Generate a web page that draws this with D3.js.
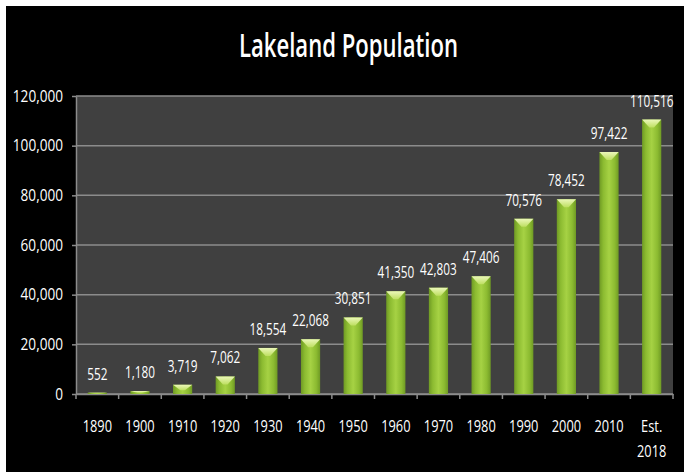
<!DOCTYPE html>
<html><head><meta charset="utf-8">
<script src="https://cdn.jsdelivr.net/npm/d3@7"></script>
<style>
html,body{margin:0;padding:0;background:#fff;}
svg{display:block;}
text{font-family:"Open Sans","Noto Sans",sans-serif;fill:#fff;}
</style></head>
<body>
<svg id="chart" width="684" height="472"></svg>
<script>
const title = "Lakeland Population";
const categories = ["1890","1900","1910","1920","1930","1940","1950","1960","1970","1980","1990","2000","2010","Est. 2018"];
const population = [552,1180,3719,7062,18554,22068,30851,41350,42803,47406,70576,78452,97422,110516];
const yTicks = [0,20000,40000,60000,80000,100000,120000];

const svg = d3.select("#chart");
svg.append("rect").attr("x",6).attr("y",6).attr("width",678).attr("height",466).attr("fill","#000");

const m = {left:76, right:673, top:96, bottom:394};
const x = d3.scaleBand().domain(categories).range([m.left,m.right]).paddingInner(0.55).paddingOuter(0.275);
const y = d3.scaleLinear().domain([0,120000]).range([m.bottom,m.top]);
const fmt = d3.format(",");

function condense(sel, f){
  sel.each(function(){
    const w = this.getComputedTextLength();
    d3.select(this).attr("textLength", w*f).attr("lengthAdjust","spacingAndGlyphs");
  });
}

const defs = svg.append("defs");
const g1 = defs.append("linearGradient").attr("id","barG").attr("x1","0").attr("x2","1").attr("y1","0").attr("y2","0");
[[0,"#6f9a24"],[0.2,"#8cbb31"],[0.5,"#a6d244"],[0.8,"#8cbb31"],[1,"#6f9a24"]].forEach(s=>g1.append("stop").attr("offset",s[0]).attr("stop-color",s[1]));
const g2 = defs.append("linearGradient").attr("id","capG").attr("x1","0").attr("x2","0").attr("y1","0").attr("y2","1");
[[0,"#f0fac0"],[1,"#bfe063"]].forEach(s=>g2.append("stop").attr("offset",s[0]).attr("stop-color",s[1]));

svg.append("rect").attr("x",m.left).attr("y",m.top).attr("width",m.right-m.left).attr("height",m.bottom-m.top).attr("fill","#404040");

svg.append("g").selectAll("line").data(yTicks).join("line")
  .attr("x1",m.left).attr("x2",m.right).attr("y1",d=>y(d)).attr("y2",d=>y(d))
  .attr("stroke","#8c8c8c").attr("stroke-width",1.5);

const yAxis = svg.append("g").attr("transform",`translate(${m.left},0)`)
  .call(d3.axisLeft(y).tickValues(yTicks).tickFormat(fmt).tickSize(4).tickSizeOuter(0));
yAxis.select(".domain").attr("stroke","#8c8c8c").attr("stroke-width",1.5);
yAxis.selectAll(".tick line").attr("stroke","#8c8c8c").attr("stroke-width",1.5);
yAxis.selectAll("text").attr("font-size",16).attr("fill","#fff").attr("x",-13).attr("font-family",null);
condense(yAxis.selectAll("text"),0.85);

const xAxis = svg.append("g").attr("transform",`translate(0,${m.bottom})`)
  .call(d3.axisBottom(x).tickSize(0).tickFormat(""));
xAxis.select(".domain").attr("stroke","#8c8c8c").attr("stroke-width",1.5);
const step = x.step();
const bounds = d3.range(categories.length+1).map(i=>m.left+i*step);
svg.append("g").selectAll("line").data(bounds).join("line")
  .attr("x1",d=>d).attr("x2",d=>d).attr("y1",m.bottom).attr("y2",m.bottom+5)
  .attr("stroke","#8c8c8c").attr("stroke-width",1.5);

const lab = svg.append("g").selectAll("text").data(categories).join("text")
  .attr("x",d=>x(d)+x.bandwidth()/2).attr("y",432).attr("text-anchor","middle").attr("font-size",16);
lab.each(function(d){
  const parts = d.split(" ");
  const t = d3.select(this);
  parts.forEach((p,i)=>t.append("tspan").attr("x",x(d)+x.bandwidth()/2).attr("dy",i?25:0).text(p));
});
condense(lab.selectAll("tspan"),0.8);

const bars = svg.append("g").selectAll("g").data(categories.map((c,i)=>({c,v:population[i]}))).join("g");
bars.append("rect").attr("x",d=>x(d.c)).attr("y",d=>y(d.v)).attr("width",x.bandwidth()).attr("height",d=>m.bottom-y(d.v)).attr("fill","url(#barG)");
bars.append("path").attr("d",d=>{
  const x0=x(d.c), w=x.bandwidth(), t=y(d.v), h=Math.min(8,(m.bottom-t)*0.6);
  return `M${x0},${t}L${x0+w},${t}L${x0+w*0.62},${t+h}L${x0+w*0.38},${t+h}Z`;
}).attr("fill","url(#capG)").attr("opacity",0.95);

svg.append("g").selectAll("text").data(categories.map((c,i)=>({c,v:population[i]}))).join("text")
  .attr("transform",d=>`translate(${x(d.c)+x.bandwidth()/2},${y(d.v)-13}) scale(0.76,1)`)
  .attr("text-anchor","middle")
  .attr("font-size",15.5).text(d=>fmt(d.v));

const tt = svg.append("text").attr("x",348.5).attr("y",57).attr("text-anchor","middle")
  .attr("font-size",33).attr("font-weight","600").text(title);
tt.attr("textLength",219).attr("lengthAdjust","spacingAndGlyphs");
</script>
</body></html>
